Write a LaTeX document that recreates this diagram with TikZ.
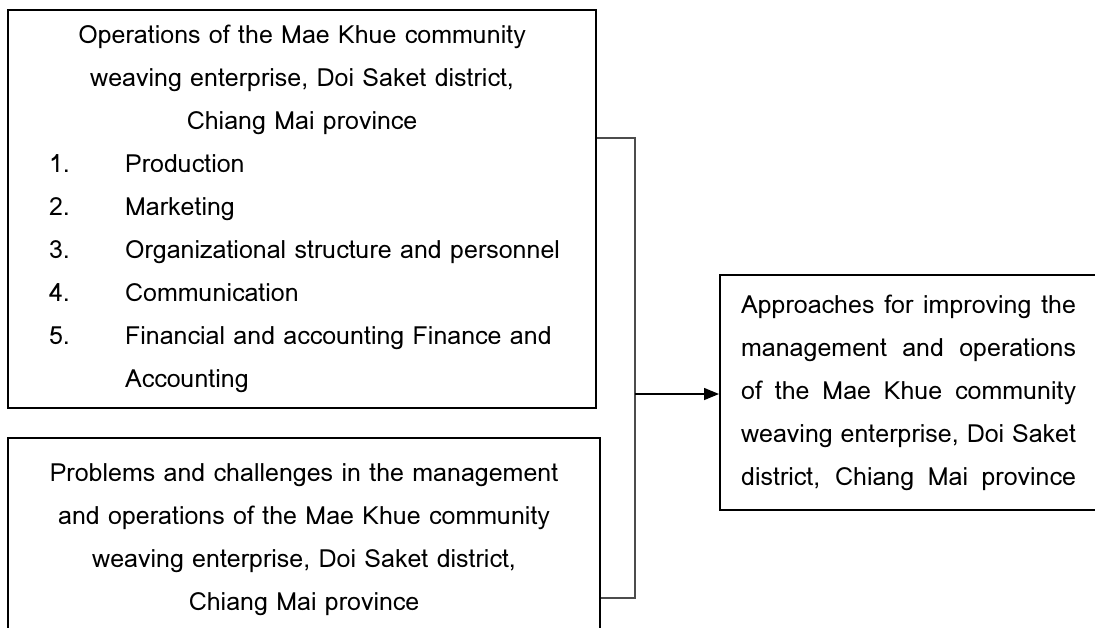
\documentclass[tikz,border=0pt]{standalone}
\usepackage{fontspec}
\setmainfont{Loma}
\usetikzlibrary{arrows.meta}
\newcommand{\opsitem}[2]{\hspace*{20.5pt}\makebox[38pt][l]{#1}#2}

\begin{document}
\begin{tikzpicture}[x=0.5pt,y=-0.5pt,
    font=\fontsize{12.5}{21.5}\selectfont,
    box/.style={draw,line width=1.1pt,inner sep=0pt,anchor=north west},
    link/.style={line width=0.7pt,black!70}]
  \useasboundingbox (0,0) rectangle (1095,627);
  \clip (0,0) rectangle (1095,627);
  % the three boxes
  \node[box,text width=294pt,minimum height=199pt,align=left] (ops) at (7,9)
    {\centering Operations of the Mae Khue community\\
     weaving enterprise, Doi Saket district,\\
     Chiang Mai province\par
     \raggedright
     \opsitem{1.}{Production}\\
     \opsitem{2.}{Marketing}\\
     \opsitem{3.}{Organizational structure and personnel}\\
     \opsitem{4.}{Communication}\\
     \opsitem{5.}{Financial and accounting Finance and}\\
     \hspace*{58.5pt}Accounting\par};
  \node[box,text width=296pt,minimum height=101.5pt,align=center] (prob) at (7,437)
    {Problems and challenges in the management\\
     and operations of the Mae Khue community\\
     weaving enterprise, Doi Saket district,\\
     Chiang Mai province};
  \node[box,text width=193pt,minimum height=117.5pt,align=justify] (appr) at (719,274)
    {\leftskip=10.5pt\rightskip=15pt\parfillskip=0pt
     Approaches for improving the\linebreak
     management and operations\linebreak
     of the Mae Khue community\linebreak
     weaving enterprise, Doi Saket\linebreak
     district, Chiang Mai province\par};
  % connectors
  \coordinate (fork top) at (635,138);
  \coordinate (fork mid) at (635,394);
  \coordinate (fork bot) at (635,598);
  \draw[link] (ops.east |- fork top) -- (fork top) -- (fork bot) -- (prob.east |- fork bot);
  \draw[link,black,-{Triangle[length=7.5pt,width=6pt]}] (fork mid) -- (appr.west |- fork mid);
\end{tikzpicture}
\end{document}
